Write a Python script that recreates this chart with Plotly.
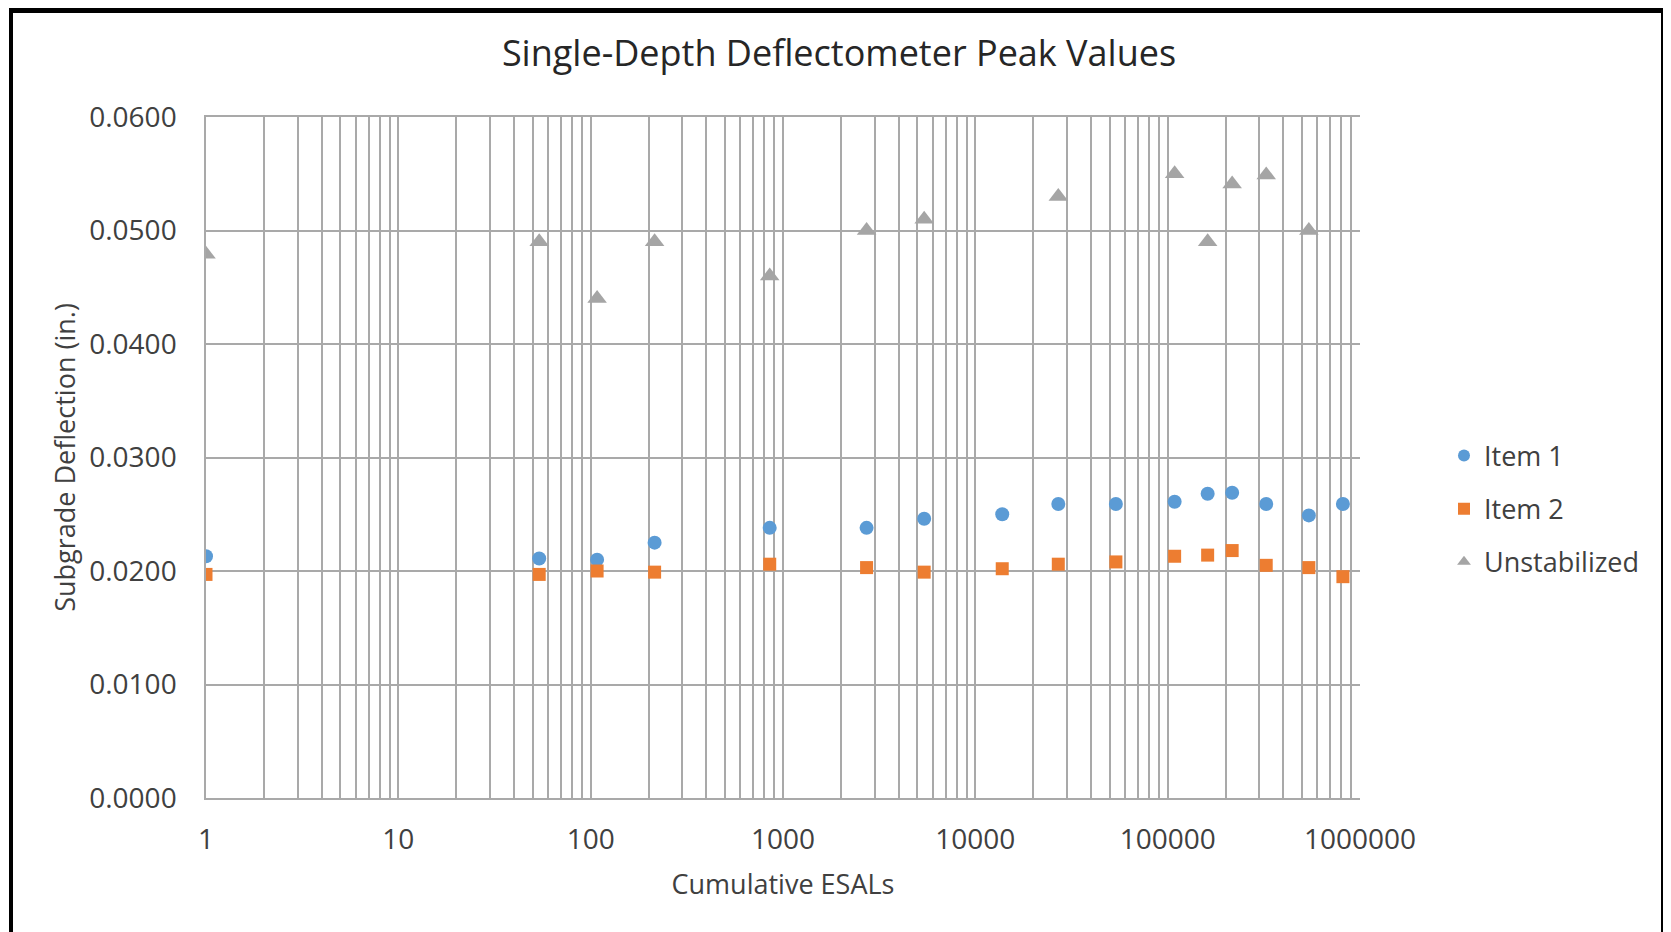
import plotly.graph_objects as go

# cumulative ESALs at each reading
esals = [1, 54, 108, 215, 853, 2720, 5420, 13800, 27000, 53800,
         108700, 161400, 216400, 325400, 542000, 815000]

item1 = [0.0213, 0.0211, 0.0210, 0.0225, 0.0238, 0.0238, 0.0246, 0.0250,
         0.0259, 0.0259, 0.0261, 0.0268, 0.0269, 0.0259, 0.0249, 0.0259]
item2 = [0.0197, 0.0197, 0.0200, 0.0199, 0.0206, 0.0203, 0.0199, 0.0202,
         0.0206, 0.0208, 0.0213, 0.0214, 0.0218, 0.0205, 0.0203, 0.0195]
unstab = [0.0479, 0.0490, 0.0440, 0.0490, 0.0460, 0.0500, 0.0510, None,
          0.0530, None, 0.0550, 0.0490, 0.0541, 0.0549, 0.0500, None]

xtick_vals = [1, 10, 100, 1000, 10000, 100000, 1000000]
xtick_text = ["1", "10", "100", "1000", "10000", "100000", "1000000"]

FONT = "Open Sans"
TXT = "#404040"
GRID = "#a9a9a9"

fig = go.Figure()
fig.add_trace(go.Scatter(x=esals, y=item1, mode="markers", name="Item 1", legendgroup="a",
                         marker=dict(symbol="circle", size=14, color="#5B9BD5")))
fig.add_trace(go.Scatter(x=esals, y=item2, mode="markers", name="Item 2", legendgroup="b",
                         marker=dict(symbol="square", size=13, color="#ED7D31")))
fig.add_trace(go.Scatter(x=esals, y=unstab, mode="markers", name="Unstabilized", legendgroup="c",
                         marker=dict(symbol="triangle-up", size=17, color="#A5A5A5")))

# page body adds an 8px offset, so margins are trimmed by 8 on left/top
fig.update_layout(
    width=1671, height=932,
    margin=dict(l=198, r=319, t=109, b=142, autoexpand=False),
    paper_bgcolor="white", plot_bgcolor="white",
    font=dict(family=FONT, size=28, color=TXT),
    title=dict(text="Single-Depth Deflectometer Peak Values",
               x=831 / 1671, xanchor="center", y=1 - 45 / 932, yanchor="middle",
               font=dict(size=36, color="#262626")),
    showlegend=True,
    legend=dict(x=(1444 - 206) / 1154, xanchor="left", y=(798 - 509) / 681, yanchor="middle",
                font=dict(size=27, color=TXT), itemsizing="constant",
                tracegroupgap=15, bgcolor="rgba(0,0,0,0)"),
    xaxis=dict(type="log", range=[0, 6], tickvals=xtick_vals, ticktext=xtick_text,
               showgrid=True, gridcolor=GRID, gridwidth=1.5,
               minor=dict(showgrid=True, gridcolor=GRID, gridwidth=1.5, dtick="D1"),
               showline=True, linecolor=GRID, linewidth=1.5, mirror=True,
               zeroline=False, ticks="", ticklabelstandoff=16,
               title=dict(text="Cumulative ESALs", standoff=19, font=dict(size=27))),
    yaxis=dict(range=[0, 0.06], dtick=0.01, tickformat=".4f",
               showgrid=True, gridcolor=GRID, gridwidth=1.5,
               showline=True, linecolor=GRID, linewidth=1.5,
               zeroline=False, ticks="", ticklabelstandoff=22,
               title=dict(text="Subgrade Deflection (in.)", standoff=6, font=dict(size=27))),
)

# black outer frame of the scanned figure
fig.add_shape(type="rect", xref="paper", yref="paper",
              x0=(11 - 206) / 1154, x1=(1663 - 206) / 1154,
              y0=(798 - 945) / 681, y1=(798 - 9) / 681,
              line=dict(color="black", width=4), layer="above")
# top edge of the frame is heavier
fig.add_shape(type="line", xref="paper", yref="paper",
              x0=(11 - 206) / 1154, x1=(1663 - 206) / 1154,
              y0=(798 - 10) / 681, y1=(798 - 10) / 681,
              line=dict(color="black", width=6), layer="above")

fig.write_html("out.html")
